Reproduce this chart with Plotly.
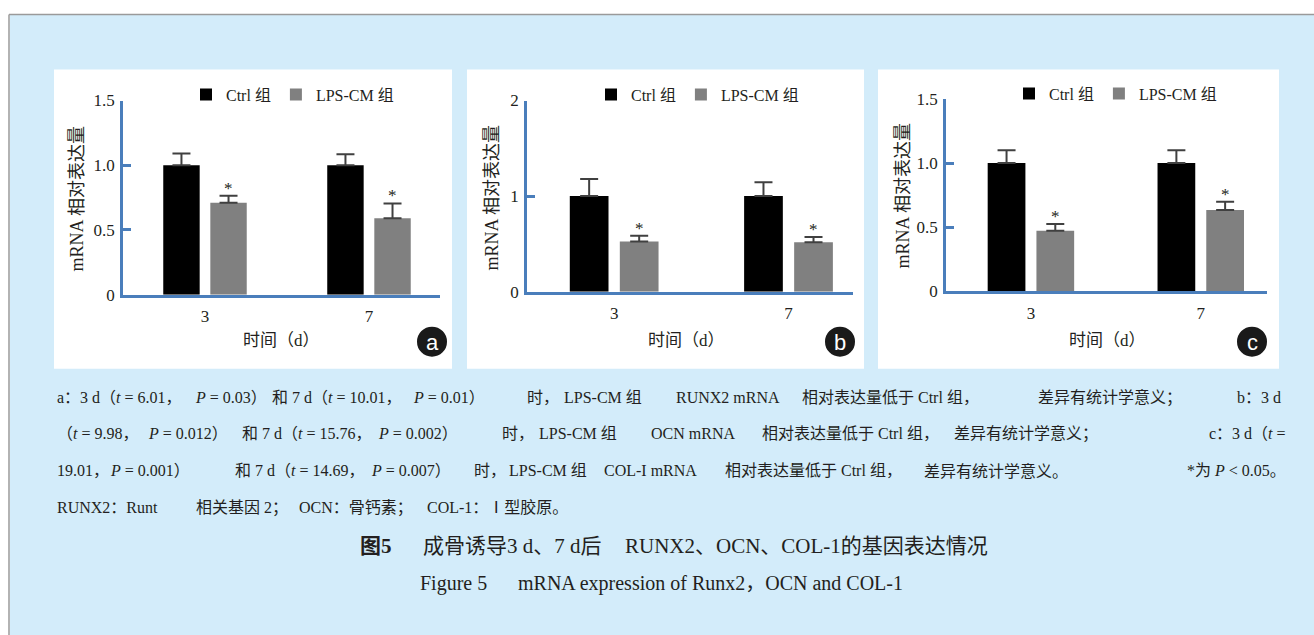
import plotly.graph_objects as go

W = 1314          # page width
HF = 648          # figure height
# the photographed page is compressed vertically (~0.97) and shifted (~8.8 px);
# reference y positions are converted to figure pixels with these two numbers
S = 0.970
T = 8.8

# ---------------- data ----------------
days = ["3", "7"]
groups = ["Ctrl 组", "LPS-CM 组"]

a_ctrl = [1.0, 1.0]
a_ctrl_err = [0.09, 0.085]
a_lps = [0.71, 0.59]
a_lps_err = [0.055, 0.115]

b_ctrl = [1.0, 1.0]
b_ctrl_err = [0.18, 0.145]
b_lps = [0.524, 0.516]
b_lps_err = [0.062, 0.055]

c_ctrl = [1.0, 1.0]
c_ctrl_err = [0.10, 0.10]
c_lps = [0.473, 0.634]
c_lps_err = [0.052, 0.065]

a_ticks = [0, 0.5, 1.0, 1.5]
a_ticktext = ["0", "0.5", "1.0", "1.5"]
b_ticks = [0, 1, 2]
b_ticktext = ["0", "1", "2"]
c_ticks = a_ticks
c_ticktext = a_ticktext

y_title = "mRNA 相对表达量"
x_title = "时间（d）"

# caption: (text chunk, x position in px, anchor)
caption_rows = [
    (397, [("a：3 d（<i>t</i> = 6.01，", 55, "left"),
           ("<i>P</i> = 0.03）", 193, "left"),
           ("和 7 d（<i>t</i> = 10.01，", 270, "left"),
           ("<i>P</i> = 0.01）", 411, "left"),
           ("时，", 525, "left"),
           ("LPS-CM 组", 562, "left"),
           ("RUNX2 mRNA", 674, "left"),
           ("相对表达量低于", 800, "left"),
           ("Ctrl 组，", 916, "left"),
           ("差异有统计学意义；", 1036, "left"),
           ("b：3 d", 1283, "right")]),
    (433, [("（<i>t</i> = 9.98，", 55, "left"),
           ("<i>P</i> = 0.012）", 146, "left"),
           ("和 7 d（<i>t</i> = 15.76，", 240, "left"),
           ("<i>P</i> = 0.002）", 376, "left"),
           ("时，", 500, "left"),
           ("LPS-CM 组", 537, "left"),
           ("OCN mRNA", 649, "left"),
           ("相对表达量低于", 760, "left"),
           ("Ctrl 组，", 876, "left"),
           ("差异有统计学意义；", 952, "left"),
           ("c：3 d（<i>t</i> =", 1288, "right")]),
    (470, [("19.01，", 55, "left"),
           ("<i>P</i> = 0.001）", 108, "left"),
           ("和 7 d（<i>t</i> = 14.69，", 233, "left"),
           ("<i>P</i> = 0.007）", 369, "left"),
           ("时，", 472, "left"),
           ("LPS-CM 组", 507, "left"),
           ("COL-I mRNA", 602, "left"),
           ("相对表达量低于", 723, "left"),
           ("Ctrl 组，", 839, "left"),
           ("差异有统计学意义。", 922, "left"),
           ("*为 <i>P</i> < 0.05。", 1288, "right")]),
    (507, [("RUNX2：Runt", 55, "left"),
           ("相关基因 2；", 194, "left"),
           ("OCN：骨钙素；", 297, "left"),
           ("COL-1：Ⅰ型胶原。", 425, "left")]),
]
title_cn_rows = [("<b>图5</b>", 358, "left"), ("成骨诱导3 d、7 d后", 421, "left"),
                 ("RUNX2、OCN、COL-1的基因表达情况", 990, "right")]
title_en_rows = [("Figure 5", 418, "left"),
                 ("mRNA expression of Runx2，OCN and COL-1", 905, "right")]

# ---------------- style ----------------
SERIF = "Liberation Serif, Noto Sans CJK SC, serif"
AXIS_BLUE = "#4A7EBB"
BLUE_BG = "#D3ECFA"
TXT = "#231F20"
ERR_C = "#404040"
BARGAP = 0.426
BARGROUPGAP = 0.226


def px(x):
    return x / W


def py(y):
    yf = y / S - T
    v = (HF - yf) / HF
    return min(max(v, 0.0), 1.0)


panels = [
    dict(ctrl=a_ctrl, ce=a_ctrl_err, lps=a_lps, le=a_lps_err, ticks=a_ticks, tt=a_ticktext,
         yr=[0, 1.5], dx=[123, 440], dy=[100, 294], xr=[-0.5, 1.433],
         rect=[54, 69, 452, 368], circ=(432, 341), letter="a", leg=(206, 94),
         yt=(77, 198), xt=(281, 340)),
    dict(ctrl=b_ctrl, ce=b_ctrl_err, lps=b_lps, le=b_lps_err, ticks=b_ticks, tt=b_ticktext,
         yr=[0, 2], dx=[527, 853], dy=[100, 291], xr=[-0.5, 1.37],
         rect=[467, 69, 864, 368], circ=(840, 341), letter="b", leg=(611, 94),
         yt=(492, 197), xt=(686, 340)),
    dict(ctrl=c_ctrl, ce=c_ctrl_err, lps=c_lps, le=c_lps_err, ticks=c_ticks, tt=c_ticktext,
         yr=[0, 1.5], dx=[946, 1267], dy=[98.3, 290.7], xr=[-0.5, 1.39],
         rect=[878, 69, 1279, 368], circ=(1252, 341), letter="c", leg=(1029, 93),
         yt=(903, 195), xt=(1107, 340)),
]

fig = go.Figure()
xpos = list(range(len(days)))
shapes = []
annotations = []

# background frame (kept inside the paper)
shapes.append(dict(type="rect", xref="paper", yref="paper", x0=px(10), x1=1, y0=0,
                   y1=py(14.5), fillcolor=BLUE_BG, line=dict(width=0), layer="below"))
shapes.append(dict(type="line", xref="paper", yref="paper", x0=px(9), x1=1, y0=py(14),
                   y1=py(14), line=dict(color="#9A9A9A", width=1.5), layer="below"))
shapes.append(dict(type="line", xref="paper", yref="paper", x0=px(9), x1=px(9), y0=0,
                   y1=py(14), line=dict(color="#9A9A9A", width=1.5), layer="below"))

slot = (1 - BARGAP) / 2

for i, p in enumerate(panels):
    n = "" if i == 0 else str(i + 1)
    xa, ya = "x" + n, "y" + n
    legname = "legend" + n
    fig.add_trace(go.Bar(
        x=xpos, y=p["ctrl"], name=groups[0], marker=dict(color="#000000", line=dict(width=0)),
        error_y=dict(type="data", symmetric=False, array=p["ce"], arrayminus=[0] * len(days),
                     color=ERR_C, thickness=2, width=9),
        xaxis=xa, yaxis=ya, legend=legname, offsetgroup="ctrl"))
    fig.add_trace(go.Bar(
        x=xpos, y=p["lps"], name=groups[1], marker=dict(color="#808080", line=dict(width=0)),
        error_y=dict(type="data", symmetric=False, array=p["le"], arrayminus=[0] * len(days),
                     color=ERR_C, thickness=2, width=9),
        xaxis=xa, yaxis=ya, legend=legname, offsetgroup="lps"))

    fig.update_layout(**{
        "xaxis" + n: dict(domain=[px(p["dx"][0]), px(p["dx"][1])], range=p["xr"],
                          anchor=ya, tickvals=xpos, ticktext=days, showline=True,
                          linecolor=AXIS_BLUE, linewidth=2.5, ticks="", showgrid=False,
                          zeroline=False, ticklabelstandoff=4,
                          tickfont=dict(family=SERIF, size=17, color=TXT), fixedrange=True),
        "yaxis" + n: dict(domain=[py(p["dy"][1]), py(p["dy"][0])], range=p["yr"],
                          anchor=xa, tickvals=p["ticks"], ticktext=p["tt"], showline=True,
                          linecolor=AXIS_BLUE, linewidth=2.5, ticks="inside", ticklen=8,
                          tickwidth=2.5, tickcolor=AXIS_BLUE, showgrid=False, zeroline=False,
                          ticklabelstandoff=2,
                          tickfont=dict(family=SERIF, size=17, color=TXT), fixedrange=True),
        legname: dict(orientation="h", x=px(p["leg"][0] - 20), xanchor="left",
                      y=py(p["leg"][1]), yanchor="middle", bgcolor="rgba(0,0,0,0)",
                      font=dict(family=SERIF, size=16, color=TXT),
                      itemwidth=30, traceorder="normal"),
    })

    # white panel
    r = p["rect"]
    shapes.append(dict(type="rect", xref="paper", yref="paper", x0=px(r[0]), x1=px(r[2]),
                       y0=py(r[3]), y1=py(r[1]), fillcolor="white", line=dict(width=0),
                       layer="below"))
    # panel letter badge
    cx, cy = p["circ"]
    shapes.append(dict(type="circle", xref="paper", yref="paper", x0=px(cx - 15), x1=px(cx + 15),
                       y0=py(cy + 15), y1=py(cy - 15), fillcolor="#1A1A1A", line=dict(width=0),
                       layer="above"))
    annotations.append(dict(text=p["letter"], xref="paper", yref="paper", x=px(cx), y=py(cy + 1),
                            xanchor="center", yanchor="middle", showarrow=False,
                            font=dict(family="Liberation Sans, Arial", size=22, color="white")))
    # axis titles
    annotations.append(dict(text=y_title, xref="paper", yref="paper",
                            x=px(p["yt"][0]), y=py(p["yt"][1]), xanchor="center",
                            yanchor="middle", textangle=-90, showarrow=False,
                            font=dict(family=SERIF, size=18, color=TXT)))
    annotations.append(dict(text=x_title, xref="paper", yref="paper", x=px(p["xt"][0]),
                            y=py(p["xt"][1]), xanchor="center", yanchor="middle",
                            showarrow=False, font=dict(family=SERIF, size=17, color=TXT)))
    # significance stars
    for j in range(len(days)):
        annotations.append(dict(text="*", xref=xa, yref=ya, x=xpos[j] + slot / 2,
                                y=p["lps"][j] + p["le"][j], xanchor="center", yanchor="bottom",
                                showarrow=False, yshift=-4,
                                font=dict(family=SERIF, size=17, color=TXT)))

cap_font = dict(family=SERIF, size=16, color=TXT)
for yy, chunks in caption_rows:
    for t, xx, anc in chunks:
        annotations.append(dict(text=t, xref="paper", yref="paper", x=px(xx), y=py(yy),
                                xanchor=anc, yanchor="middle", showarrow=False, font=cap_font))

for t, xx, anc in title_cn_rows:
    annotations.append(dict(text=t, xref="paper", yref="paper", x=px(xx), y=py(545),
                            xanchor=anc, yanchor="middle", showarrow=False,
                            font=dict(family=SERIF, size=21, color=TXT)))
for t, xx, anc in title_en_rows:
    annotations.append(dict(text=t, xref="paper", yref="paper", x=px(xx), y=py(583),
                            xanchor=anc, yanchor="middle", showarrow=False,
                            font=dict(family=SERIF, size=20, color=TXT)))

fig.update_layout(
    width=W, height=HF, margin=dict(l=0, r=0, t=0, b=0),
    paper_bgcolor="white", plot_bgcolor="rgba(0,0,0,0)",
    barmode="group", bargap=BARGAP, bargroupgap=BARGROUPGAP,
    shapes=shapes, annotations=annotations, showlegend=True,
)

fig.write_html(
    "out.html", config={"displayModeBar": False},
    post_script=("document.documentElement.style.margin='0';document.body.style.margin='0';"
                 "document.body.style.padding='0';document.body.style.overflow='hidden';"
                 "document.documentElement.style.overflow='hidden';"))
